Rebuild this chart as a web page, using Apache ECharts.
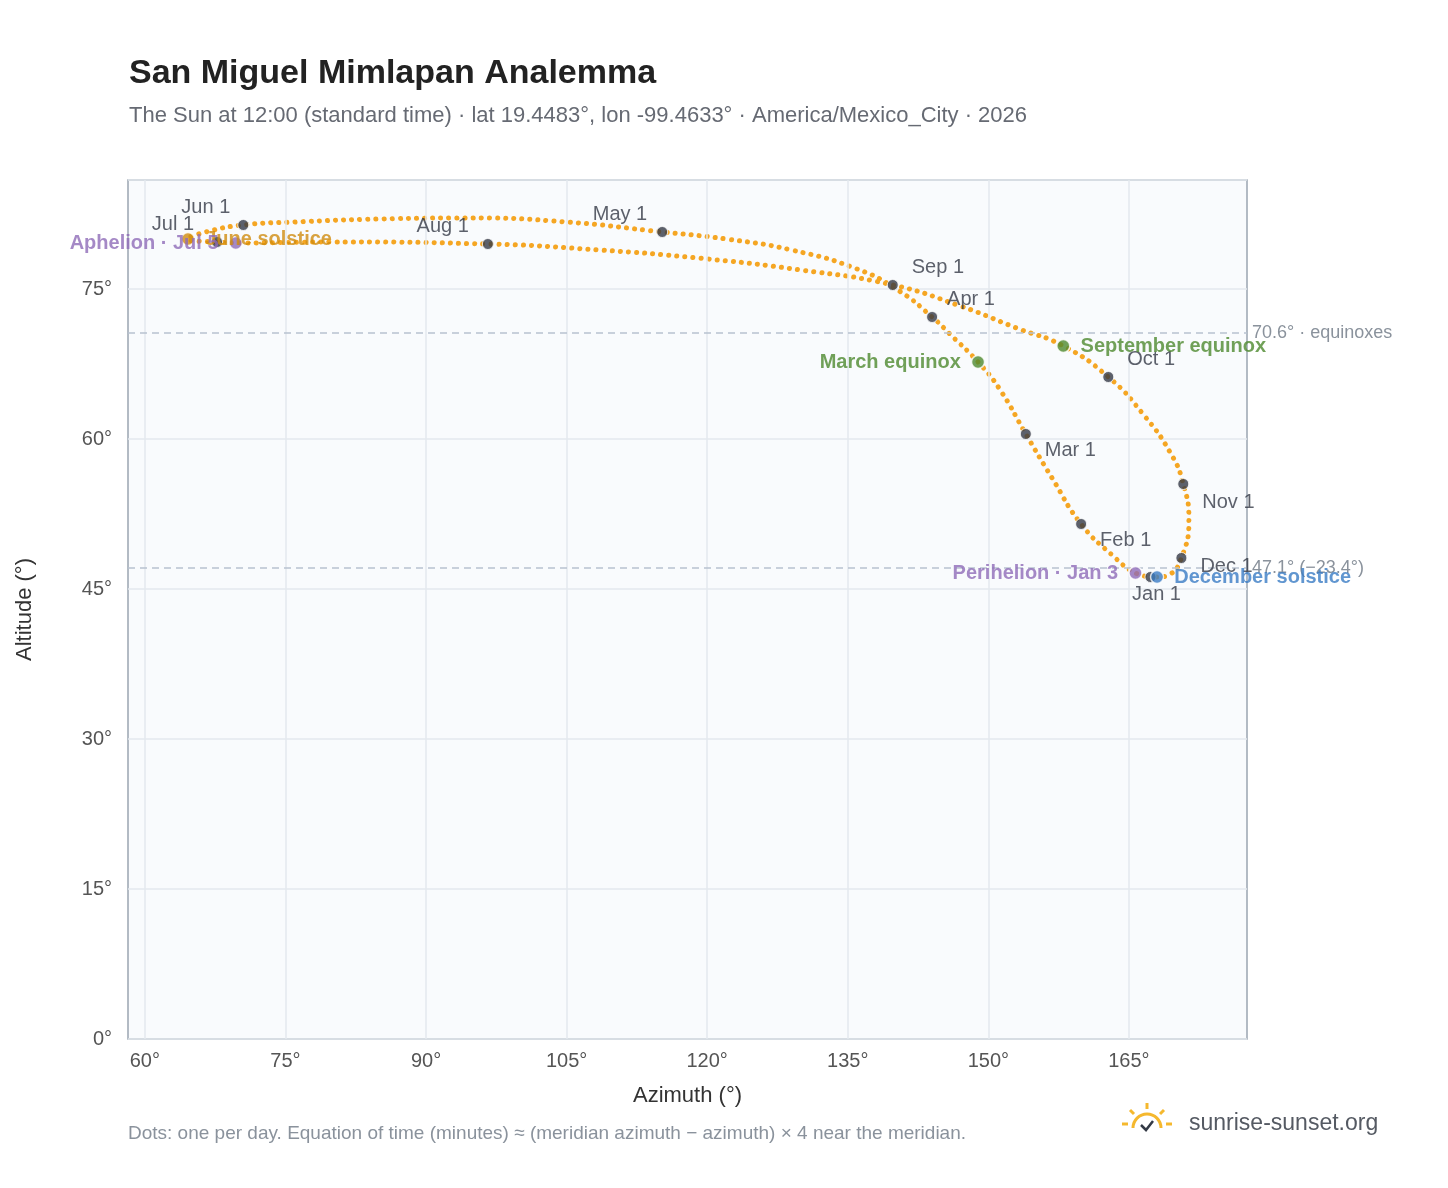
<!DOCTYPE html>
<html>
<head>
<meta charset="UTF-8">
<title>San Miguel Mimlapan Analemma</title>
<script src="https://cdn.jsdelivr.net/npm/echarts@6/dist/echarts.min.js"></script>
<style>
  body { margin: 0; background: #fff; }
  #chart { width: 1448px; height: 1188px; }
</style>
</head>
<body>
<div id="chart"></div>
<script>
// path of the sun at noon, [azimuth, altitude] (Jan 1 -> Dec 31)
var pathPoints = [
  [167.5, 46.2], [165.7, 46.6], [163.2, 48.4], [159.9, 51.5], [156.8, 56.1], [154.0, 60.5],
  [151.2, 65.0], [148.9, 67.7], [146.0, 70.4], [144.0, 72.2], [140.5, 74.8], [136.0, 77.0],
  [129.0, 78.9], [122.0, 80.0], [115.2, 80.7], [105.0, 81.7], [95.0, 82.1], [85.0, 82.0],
  [76.0, 81.7], [70.5, 81.4], [66.5, 80.7], [64.6, 80.0], [67.7, 79.7], [69.7, 79.6],
  [80.0, 79.7], [96.6, 79.5], [108.5, 78.9], [119.0, 78.1], [130.0, 76.9], [139.8, 75.4],
  [147.0, 73.3], [153.0, 71.1], [158.0, 69.3], [162.8, 66.2], [166.5, 62.5], [169.5, 58.5],
  [170.8, 55.5], [171.4, 52.0], [170.6, 48.1], [169.2, 46.4], [168.0, 46.2], [167.5, 46.2]
];
var monthNames = ['Jan 1', 'Feb 1', 'Mar 1', 'Apr 1', 'May 1', 'Jun 1', 'Jul 1', 'Aug 1', 'Sep 1', 'Oct 1', 'Nov 1', 'Dec 1'];
var monthPoints = [
  [167.3, 46.2], [159.9, 51.5], [154.0, 60.5], [144.0, 72.2], [115.2, 80.7], [70.5, 81.4],
  [67.7, 79.7], [96.6, 79.5], [139.8, 75.4], [162.8, 66.2], [170.8, 55.5], [170.6, 48.1]
];
var eventNames = ['March equinox', 'September equinox', 'June solstice', 'December solstice', 'Aphelion · Jul 5', 'Perihelion · Jan 3'];
var eventPoints = [[148.9, 67.7], [158.0, 69.3], [64.6, 80.0], [168.0, 46.2], [69.7, 79.6], [165.7, 46.6]];
var eventColors = ['#4e8a2e', '#4e8a2e', '#d08c10', '#3a7cc4', '#8e6bb8', '#8e6bb8'];
var xTicks = [60, 75, 90, 105, 120, 135, 150, 165];
var refLines = [70.6, 47.1];
var refLabels = ['70.6° · equinoxes', '47.1° (−23.4°)'];

var monthLabelPos = {
  'Jan 1': ['bottom', [6, -4]], 'Feb 1': ['right', [8, 16]], 'Mar 1': ['right', [8, 16]],
  'Apr 1': ['right', [4, -18]], 'May 1': ['left', [-4, -18]], 'Jun 1': ['left', [-2, -18]],
  'Jul 1': ['left', [-12, -18]], 'Aug 1': ['left', [-8, -18]], 'Sep 1': ['right', [8, -18]],
  'Oct 1': ['right', [8, -18]], 'Nov 1': ['right', [8, 18]], 'Dec 1': ['right', [8, 8]]
};
var eventLabelPos = ['left', 'right', 'right', 'right', 'left', 'left'];

var chart = echarts.init(document.getElementById('chart'));
var font = '"Liberation Sans", Arial, Helvetica, sans-serif';

chart.setOption({
  textStyle: { fontFamily: font },
  title: {
    text: 'San Miguel Mimlapan Analemma',
    subtext: 'The Sun at 12:00 (standard time) · lat 19.4483°, lon -99.4633° · America/Mexico_City · 2026',
    left: 124, top: 52,
    textStyle: { fontSize: 34, fontWeight: 'bold', color: '#222', fontFamily: font },
    subtextStyle: { fontSize: 22, color: '#666a73', fontFamily: font },
    itemGap: 14
  },
  grid: { left: 128, right: 201, top: 180, bottom: 149, show: true, backgroundColor: '#f9fbfd', borderColor: '#9aa5b1', borderWidth: 1.5 },
  xAxis: {
    type: 'value', min: 58.2, max: 177.6,
    name: 'Azimuth (°)', nameLocation: 'middle', nameGap: 46,
    nameTextStyle: { fontSize: 22, color: '#333' },
    axisLabel: { fontSize: 20, color: '#555', formatter: '{value}°', customValues: xTicks, showMinLabel: true, showMaxLabel: true, margin: 12 },
    axisTick: { show: false },
    axisLine: { show: false },
    splitLine: { show: false }
  },
  yAxis: {
    type: 'value', min: 0, max: 85.9, interval: 15,
    name: 'Altitude (°)', nameLocation: 'middle', nameGap: 92, nameRotate: 90,
    nameTextStyle: { fontSize: 22, color: '#333' },
    axisLabel: { fontSize: 20, color: '#555', formatter: '{value}°', showMaxLabel: false, margin: 16 },
    axisTick: { show: false },
    axisLine: { show: false },
    splitLine: { lineStyle: { color: '#e3e8ee', width: 1.5 } }
  },
  series: [
    {
      type: 'line', data: [], silent: true, z: 1,
      markLine: {
        silent: true, symbol: 'none', animation: false,
        lineStyle: { color: '#e3e8ee', type: 'solid', width: 1.5 },
        label: { show: false },
        data: xTicks.map(function (v) { return { xAxis: v }; })
      }
    },
    {
      type: 'line', data: pathPoints, smooth: 0.5, symbol: 'none', silent: true,
      lineStyle: { color: '#f5a623', width: 5, type: [0.1, 8], cap: 'round' },
      markLine: {
        silent: true, symbol: 'none',
        lineStyle: { color: '#b8c2cf', type: [7, 5], width: 1.5 },
        label: { position: 'end', fontSize: 18, color: '#8a929c', formatter: function (p) { return refLabels[p.dataIndex]; } },
        data: refLines.map(function (v) { return { yAxis: v }; })
      }
    },
    {
      type: 'scatter', symbolSize: 11, z: 5,
      itemStyle: { color: '#343a46', borderColor: '#fff', borderWidth: 1 },
      data: monthPoints.map(function (p, i) {
        var lp = monthLabelPos[monthNames[i]];
        return { value: p, name: monthNames[i], label: { show: true, position: lp[0], offset: lp[1], formatter: monthNames[i], fontSize: 20, color: '#343a46' } };
      })
    },
    {
      type: 'scatter', symbolSize: 13, z: 6,
      data: eventPoints.map(function (p, i) {
        return {
          value: p, name: eventNames[i],
          itemStyle: { color: eventColors[i], borderColor: '#fff', borderWidth: 1.5 },
          label: { show: true, position: eventLabelPos[i], formatter: eventNames[i], fontSize: 20, fontWeight: 'bold', color: eventColors[i], distance: 10 }
        };
      })
    }
  ],
  graphic: [
    { type: 'text', left: 128, top: 1124, style: { text: 'Dots: one per day. Equation of time (minutes) ≈ (meridian azimuth − azimuth) × 4 near the meridian.', fontSize: 19, fill: '#8a929c', fontFamily: font } },
    { type: 'text', left: 1189, top: 1112, style: { text: 'sunrise-sunset.org', fontSize: 23, fill: '#555a63', fontFamily: font } },
    { type: 'arc', shape: { cx: 1147, cy: 1128, r: 14, startAngle: Math.PI, endAngle: 2 * Math.PI }, style: { stroke: '#f5b82e', lineWidth: 3, fill: 'none' } },
    { type: 'polyline', shape: { points: [[1141, 1125], [1146, 1130], [1153, 1121]] }, style: { stroke: '#343a46', lineWidth: 2.5, fill: 'none' } },
    { type: 'line', shape: { x1: 1147, y1: 1103, x2: 1147, y2: 1109 }, style: { stroke: '#f5b82e', lineWidth: 3 } },
    { type: 'line', shape: { x1: 1130, y1: 1110, x2: 1134, y2: 1114 }, style: { stroke: '#f5b82e', lineWidth: 3 } },
    { type: 'line', shape: { x1: 1164, y1: 1110, x2: 1160, y2: 1114 }, style: { stroke: '#f5b82e', lineWidth: 3 } },
    { type: 'line', shape: { x1: 1122, y1: 1124, x2: 1128, y2: 1124 }, style: { stroke: '#f5b82e', lineWidth: 3 } },
    { type: 'line', shape: { x1: 1166, y1: 1124, x2: 1172, y2: 1124 }, style: { stroke: '#f5b82e', lineWidth: 3 } }
  ]
});
</script>
</body>
</html>
